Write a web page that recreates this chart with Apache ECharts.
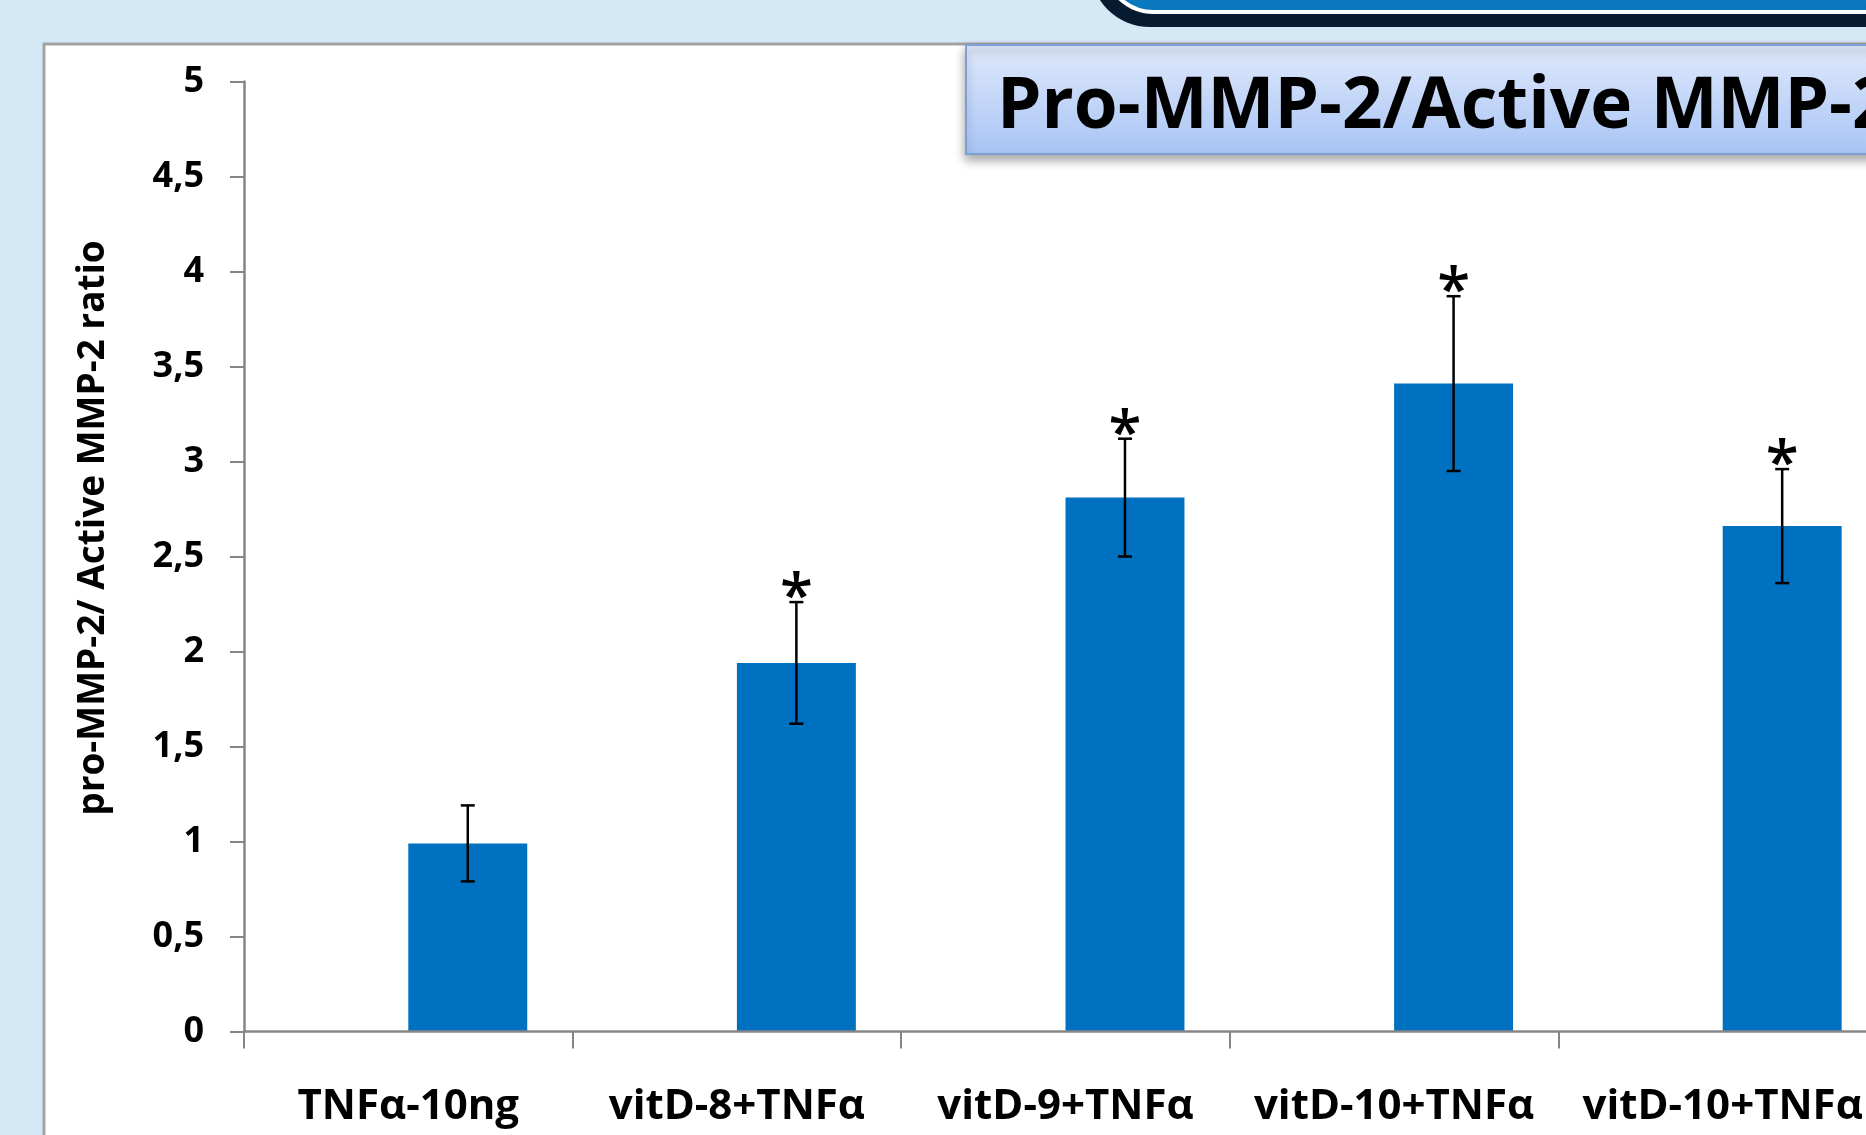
<!DOCTYPE html>
<html>
<head>
<meta charset="utf-8">
<script src="https://cdn.jsdelivr.net/npm/echarts@6/dist/echarts.min.js"></script>
<style>
html, body { margin: 0; padding: 0; background: #d5e8f6; }
#main { width: 1866px; height: 1135px; }
</style>
</head>
<body>
<div id="main"></div>
<script>
// groups on the x axis
var categories = ['TNFα-10ng', 'vitD-8+TNFα', 'vitD-9+TNFα', 'vitD-10+TNFα', 'vitD-10+TNFα'];
// pro-MMP-2 / active MMP-2 ratio, mean and error bar half length
var ratioMeans = [0.99, 1.94, 2.81, 3.41, 2.66];
var ratioErrors = [0.20, 0.32, 0.31, 0.46, 0.30];
// groups marked with *
var significant = [0, 1, 1, 1, 1];

var barShare = 0.362;   // bar width as part of a category band
var font = '"Open Sans", "Noto Sans", sans-serif';

var chart = echarts.init(document.getElementById('main'));

function renderErrorBar(params, api) {
    var mean = api.value(1);
    var err = api.value(2);
    var band = api.size([1, 0])[0];
    var dx = band * barShare / 2;
    var top = api.coord([api.value(0), mean + err]);
    var bot = api.coord([api.value(0), mean - err]);
    var x = top[0] + dx;
    var cap = 7;
    var st = { stroke: '#000', lineWidth: 2.5 };
    var kids = [
        { type: 'line', shape: { x1: x, y1: top[1], x2: x, y2: bot[1] }, style: st },
        { type: 'line', shape: { x1: x - cap, y1: top[1], x2: x + cap, y2: top[1] }, style: st },
        { type: 'line', shape: { x1: x - cap, y1: bot[1], x2: x + cap, y2: bot[1] }, style: st }
    ];
    if (api.value(3)) {
        kids.push({
            type: 'text', x: x, y: top[1] - 3,
            style: { text: '*', fill: '#000', align: 'center', verticalAlign: 'middle',
                     font: '600 60px ' + font }
        });
    }
    return { type: 'group', children: kids };
}

var option = {
    backgroundColor: '#d5e8f6',
    animation: false,
    graphic: [
        // white chart panel
        { type: 'rect', z: -10, shape: { x: 44, y: 44, width: 1900, height: 1200 },
          style: { fill: '#ffffff', stroke: '#a3a3a3', lineWidth: 3 } },
        // dark slide button at the top
        { type: 'rect', z: 30, shape: { x: 1090, y: -200, width: 900, height: 227, r: 60 },
          style: { fill: '#061a30' } },
        { type: 'rect', z: 31, shape: { x: 1104, y: -200, width: 900, height: 212, r: 50 },
          style: { fill: new echarts.graphic.LinearGradient(0, 0, 0, 1, [
                      { offset: 0.8, color: '#0a86cc' }, { offset: 1, color: '#0a74bb' }]),
                   stroke: '#ffffff', lineWidth: 4 } },
        // title box
        { type: 'rect', z: 40, shape: { x: 966, y: 45, width: 960, height: 109 },
          style: { fill: new echarts.graphic.LinearGradient(0, 0, 0, 1, [
                      { offset: 0, color: '#e0e9fb' }, { offset: 1, color: '#a8c4f5' }]),
                   stroke: '#7c9fd5', lineWidth: 2,
                   shadowBlur: 10, shadowOffsetY: 5, shadowColor: 'rgba(0,0,0,0.35)' } },
        { type: 'text', z: 41, x: 997, y: 108,
          style: { text: 'Pro-MMP-2/Active MMP-2 ratio', fill: '#000', verticalAlign: 'middle',
                   font: 'bold 71px ' + font } },
        // y axis title
        { type: 'text', z: 5, x: 93, y: 528, rotation: Math.PI / 2,
          style: { text: 'pro-MMP-2/ Active MMP-2 ratio', fill: '#000', align: 'center',
                   verticalAlign: 'middle', font: 'bold 37px ' + font } }
    ],
    grid: { left: 244, top: 81.5, width: 1643, height: 950, containLabel: false, outerBoundsMode: 'none' },
    xAxis: {
        type: 'category',
        data: categories,
        z: 5,
        axisLine: { lineStyle: { color: '#868686', width: 2.5 } },
        axisTick: { show: true, length: 17, lineStyle: { color: '#868686', width: 2 } },
        axisLabel: { interval: 0, margin: 55, color: '#000', fontSize: 42, fontWeight: 'bold', fontFamily: font }
    },
    yAxis: {
        type: 'value',
        min: 0, max: 5, interval: 0.5,
        z: 5,
        splitLine: { show: false },
        axisLine: { show: true, lineStyle: { color: '#868686', width: 2.5 } },
        axisTick: { show: true, length: 14, lineStyle: { color: '#868686', width: 2 } },
        axisLabel: { margin: 40, color: '#000', fontSize: 36, fontWeight: 'bold', fontFamily: font,
                     formatter: function (v) { return String(v).replace('.', ','); } }
    },
    series: [
        { name: 'empty', type: 'bar', barWidth: (barShare * 100) + '%', barGap: '0%',
          itemStyle: { color: 'rgba(0,0,0,0)' }, data: categories.map(function () { return 0; }) },
        { name: 'ratio', type: 'bar', barWidth: (barShare * 100) + '%', barGap: '0%',
          itemStyle: { color: '#0070c0' }, data: ratioMeans },
        { name: 'error', type: 'custom', z: 6, clip: false, renderItem: renderErrorBar,
          encode: { x: 0, y: 1 },
          data: ratioMeans.map(function (m, i) { return [i, m, ratioErrors[i], significant[i]]; }) }
    ]
};

chart.setOption(option);
</script>
</body>
</html>
